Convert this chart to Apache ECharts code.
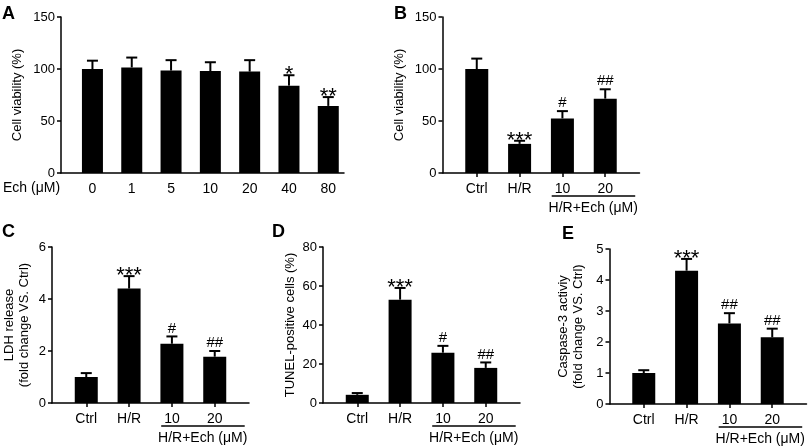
<!DOCTYPE html>
<html>
<head>
<meta charset="utf-8">
<script src="https://cdn.jsdelivr.net/npm/echarts@6/dist/echarts.min.js"></script>
<style>
  html, body { margin: 0; padding: 0; background: #fff; }
  #chart { width: 809px; height: 448px; }
</style>
</head>
<body>
<div id="chart"></div>
<script>
// panel A: dose response
const doseLabels = ["0", "1", "5", "10", "20", "40", "80"];
const aMean = [100, 101.5, 98.5, 98, 97.5, 84, 64.5];
const aSd = [8, 9.5, 10, 8.5, 11, 10, 8.5];
const aSig = ["", "", "", "", "", "*", "**"];

// panels B-E share the same groups
const groupLabels = ["Ctrl", "H/R", "10", "20"];
const groupName = "H/R+Ech (\u03bcM)";

const bMean = [100, 28, 52.5, 71.5];
const bSd = [10, 3, 7, 9];
const bSig = ["", "***", "#", "##"];

const cMean = [1.0, 4.4, 2.28, 1.78];
const cSd = [0.15, 0.48, 0.28, 0.22];
const cSig = ["", "***", "#", "##"];

const dMean = [4.2, 53, 25.8, 18];
const dSd = [0.9, 6, 3.5, 2.8];
const dSig = ["", "***", "#", "##"];

const eMean = [1.0, 4.3, 2.6, 2.15];
const eSd = [0.09, 0.38, 0.33, 0.28];
const eSig = ["", "***", "##", "##"];

const FONT = "'Liberation Sans', Arial, sans-serif";

const chart = echarts.init(document.getElementById("chart"));

const grids = [];
const xAxes = [];
const yAxes = [];
const series = [];

function errorRenderer(sig) {
  return function (params, api) {
    const x = api.value(0);
    const base = api.coord([x, api.value(1)]);
    const top = api.coord([x, api.value(2)]);
    const s = sig[params.dataIndex];
    const children = [
      { type: "line", shape: { x1: base[0], y1: base[1], x2: top[0], y2: top[1] },
        style: { stroke: "#000", lineWidth: 2 } },
      { type: "line", shape: { x1: top[0] - 5.5, y1: top[1], x2: top[0] + 5.5, y2: top[1] },
        style: { stroke: "#000", lineWidth: 2 } }
    ];
    if (s) {
      const star = s.indexOf("*") >= 0;
      children.push({
        type: "text",
        style: {
          text: s, x: top[0], y: top[1] - (star ? 0 : 8),
          align: "center", verticalAlign: "middle",
          font: (star ? "22px " : "15px ") + FONT, fill: "#000"
        }
      });
    }
    return { type: "group", children: children };
  };
}

function bracketRenderer(params, api) {
  const p1 = api.coord([api.value(0), 0]);
  const p2 = api.coord([api.value(1), 0]);
  const mid = api.coord([api.value(2), 0]);
  return {
    type: "group",
    children: [
      { type: "line", shape: { x1: p1[0], y1: p1[1] + 23, x2: p2[0], y2: p2[1] + 23 },
        style: { stroke: "#000", lineWidth: 1.5 } },
      { type: "text",
        style: { text: groupName, x: mid[0], y: mid[1] + 35, align: "center",
                 verticalAlign: "middle", font: "14px " + FONT, fill: "#000" } }
    ]
  };
}

function addPanel(cfg) {
  const i = grids.length;
  grids.push({ left: cfg.left, top: cfg.top, width: cfg.width, height: cfg.height });
  xAxes.push({
    gridIndex: i, type: "value", min: cfg.xMin, max: cfg.xMax,
    axisLine: { show: true, onZero: false, lineStyle: { color: "#000", width: 1.5 } },
    axisTick: { show: cfg.ticks, length: 4, lineStyle: { color: "#000", width: 1.5 },
                customValues: cfg.labels.map((_, k) => k) },
    axisLabel: { customValues: cfg.labels.map((_, k) => k), margin: 9,
                 formatter: v => cfg.labels[Math.round(v)],
                 color: "#000", fontSize: 14, fontFamily: FONT },
    splitLine: { show: false }
  });
  yAxes.push({
    gridIndex: i, type: "value", min: 0, max: cfg.yMax, interval: cfg.yStep,
    name: cfg.yName, nameLocation: "middle", nameGap: cfg.nameGap, nameRotate: 90,
    nameTextStyle: { color: "#000", fontSize: 13, fontFamily: FONT, lineHeight: 15 },
    axisLine: { show: true, onZero: false, lineStyle: { color: "#000", width: 1.5 } },
    axisTick: { show: true, length: 4, lineStyle: { color: "#000", width: 1.5 } },
    axisLabel: { color: "#000", fontSize: 13, fontFamily: FONT, margin: 6 },
    splitLine: { show: false }
  });
  series.push({
    type: "bar", xAxisIndex: i, yAxisIndex: i, barWidth: cfg.barWidth,
    itemStyle: { color: "#000" }, silent: true,
    data: cfg.mean.map((v, k) => [k, v])
  });
  series.push({
    type: "custom", xAxisIndex: i, yAxisIndex: i, silent: true, z: 3,
    renderItem: errorRenderer(cfg.sig),
    data: cfg.mean.map((v, k) => [k, v, v + cfg.sd[k]])
  });
  if (cfg.bracket) {
    series.push({
      type: "custom", xAxisIndex: i, yAxisIndex: i, silent: true,
      renderItem: bracketRenderer, data: [[1.75, 3.7, 2.72]]
    });
  }
}

addPanel({ left: 61, top: 17, width: 283, height: 156, xMin: -0.8, xMax: 6.4,
  labels: doseLabels, ticks: false, mean: aMean, sd: aSd, sig: aSig, barWidth: 21,
  yMax: 150, yStep: 50, yName: "Cell viability (%)", nameGap: 36, bracket: false });
addPanel({ left: 442.5, top: 17, width: 197, height: 156, xMin: -0.8, xMax: 3.8,
  labels: groupLabels, ticks: true, mean: bMean, sd: bSd, sig: bSig, barWidth: 23,
  yMax: 150, yStep: 50, yName: "Cell viability (%)", nameGap: 36, bracket: true });
addPanel({ left: 52, top: 247, width: 197, height: 156, xMin: -0.8, xMax: 3.8,
  labels: groupLabels, ticks: true, mean: cMean, sd: cSd, sig: cSig, barWidth: 23,
  yMax: 6, yStep: 2, yName: "LDH release\n(fold change VS. Ctrl)", nameGap: 20, bracket: true });
addPanel({ left: 323, top: 247, width: 197, height: 156, xMin: -0.8, xMax: 3.8,
  labels: groupLabels, ticks: true, mean: dMean, sd: dSd, sig: dSig, barWidth: 23,
  yMax: 80, yStep: 20, yName: "TUNEL-positive cells (%)", nameGap: 25, bracket: true });
addPanel({ left: 609.5, top: 249, width: 197, height: 155, xMin: -0.8, xMax: 3.8,
  labels: groupLabels, ticks: true, mean: eMean, sd: eSd, sig: eSig, barWidth: 23,
  yMax: 5, yStep: 1, yName: "Caspase-3 activiy\n(fold change VS. Ctrl)", nameGap: 24, bracket: true });

function letter(txt, x, y) {
  return { type: "text", left: x, top: y,
    style: { text: txt, font: "bold 18px " + FONT, fill: "#000" } };
}

chart.setOption({
  backgroundColor: "#fff",
  animation: false,
  grid: grids,
  xAxis: xAxes,
  yAxis: yAxes,
  series: series,
  graphic: [
    letter("A", 2, 5),
    letter("B", 394, 5),
    letter("C", 2, 223),
    letter("D", 272, 223),
    letter("E", 562, 225),
    { type: "text", left: 3, top: 181,
      style: { text: "Ech (\u03bcM)", font: "14px " + FONT, fill: "#000" } }
  ]
});
</script>
</body>
</html>
